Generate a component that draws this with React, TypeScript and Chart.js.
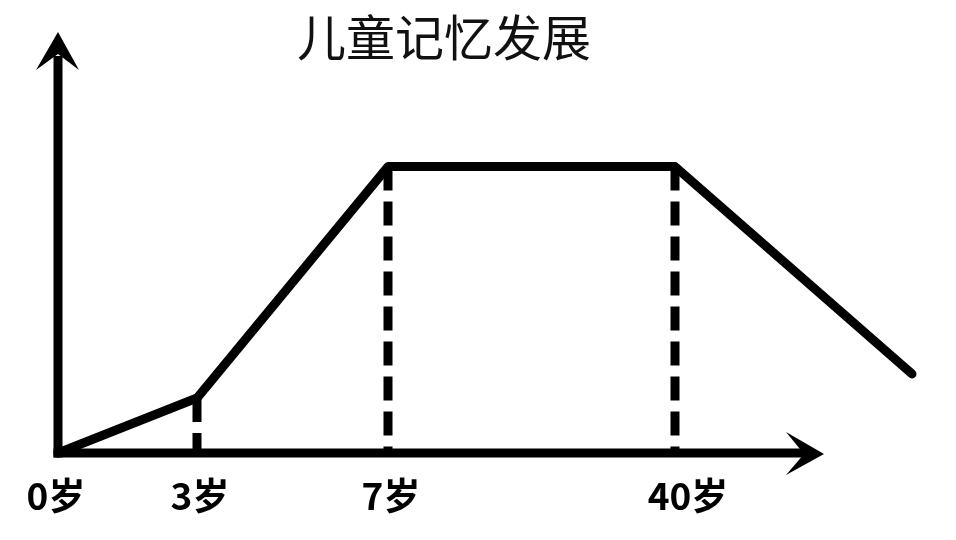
import React, { useEffect, useRef } from "react";
import { Chart, registerables } from "chart.js";

Chart.register(...registerables);

// Schematic horizontal positions of the age marks (not to scale), and memory level
const ageLabels = ["0岁", "3岁", "7岁", "40岁"];
const agePos = [0, 13.9, 33.0, 61.7];
const curvePos = [0, 13.9, 33.0, 61.7, 85.4];
const memoryLevel = [0, 19.2, 100, 100, 27.6];
const dashedAt = [1, 2, 3]; // indices in curve with a dashed drop line
const xAxisEnd = 76.6;
const xMax = 85.4;
const yMax = 147;
const title = "儿童记忆发展";

const FONT = "'Noto Sans CJK SC', 'Noto Sans', sans-serif";
const labelShift = [-2, 3, 3, 13];

export default function App() {
  const ref = useRef<HTMLCanvasElement | null>(null);

  useEffect(() => {
    if (!ref.current) return;

    const axesPlugin = {
      id: "axesArrows",
      beforeDatasetsDraw(chart: any) {
        const { ctx, scales } = chart;
        const x = scales.x;
        const y = scales.y;
        const ox = x.getPixelForValue(0);
        const oy = y.getPixelForValue(0);
        const yTip = y.getPixelForValue(yMax);
        const xTip = x.getPixelForValue(xAxisEnd);
        ctx.save();
        ctx.fillStyle = "#000";
        ctx.strokeStyle = "#000";
        ctx.lineWidth = 9;
        ctx.lineCap = "butt";
        // y axis
        ctx.beginPath();
        ctx.moveTo(ox, oy + 4.5);
        ctx.lineTo(ox, yTip + 24);
        ctx.stroke();
        // x axis
        ctx.beginPath();
        ctx.moveTo(ox - 4.5, oy);
        ctx.lineTo(xTip - 20, oy);
        ctx.stroke();
        // y arrowhead
        ctx.beginPath();
        ctx.moveTo(ox, yTip);
        ctx.lineTo(ox + 21, yTip + 38);
        ctx.lineTo(ox, yTip + 22);
        ctx.lineTo(ox - 22, yTip + 38);
        ctx.closePath();
        ctx.fill();
        // x arrowhead
        ctx.beginPath();
        ctx.moveTo(xTip, oy + 1);
        ctx.lineTo(xTip - 38, oy + 22);
        ctx.lineTo(xTip - 20, oy + 1);
        ctx.lineTo(xTip - 38, oy - 21);
        ctx.closePath();
        ctx.fill();
        ctx.restore();
      },
      afterDraw(chart: any) {
        const { ctx, scales } = chart;
        const x = scales.x;
        ctx.save();
        ctx.fillStyle = "#000";
        ctx.textAlign = "center";
        ctx.textBaseline = "middle";
        ctx.font = `bold 37px ${FONT}`;
        ageLabels.forEach((lab, i) => {
          ctx.fillText(lab, x.getPixelForValue(agePos[i]) + labelShift[i], 496);
        });
        ctx.font = `normal 49px ${FONT}`;
        ctx.fillStyle = "#111";
        ctx.fillText(title, 444, 37);
        ctx.restore();
      },
    };

    const curve = curvePos.map((p, i) => ({ x: p, y: memoryLevel[i] }));
    const dashSets = dashedAt.map((i) => ({
      data: [
        { x: curvePos[i], y: memoryLevel[i] },
        { x: curvePos[i], y: 0 },
      ],
      borderColor: "#000",
      borderWidth: 9,
      borderDash: [24, 11],
      borderCapStyle: "butt" as const,
      pointRadius: 0,
      clip: false as any,
      order: 2,
    }));

    const chart = new Chart(ref.current, {
      type: "line",
      data: {
        datasets: [
          {
            data: curve,
            borderColor: "#000",
            borderWidth: 9,
            borderCapStyle: "round",
            borderJoinStyle: "round",
            pointRadius: 0,
            tension: 0,
            clip: false as any,
            order: 1,
          },
          ...dashSets,
        ],
      },
      options: {
        animation: false,
        responsive: false,
        devicePixelRatio: 1,
        layout: { padding: { left: 58, right: 44, top: 32, bottom: 87 } },
        plugins: {
          legend: { display: false },
          tooltip: { enabled: false },
          title: { display: false },
        },
        scales: {
          x: { type: "linear", min: 0, max: xMax, display: false },
          y: { type: "linear", min: 0, max: yMax, display: false },
        },
      },
      plugins: [axesPlugin],
    });
    return () => chart.destroy();
  }, []);

  return (
    <div
      style={{
        position: "absolute",
        left: 0,
        top: 0,
        width: 956,
        height: 540,
        background: "#fff",
      }}
    >
      <canvas ref={ref} width={956} height={540} />
    </div>
  );
}
